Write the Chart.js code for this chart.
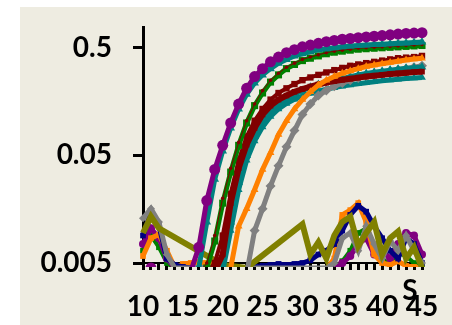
<!DOCTYPE html>
<html lang="en">
<head>
  <meta charset="UTF-8">
  <title>Amplification</title>
  <script src="https://cdn.jsdelivr.net/npm/chart.js@4.4.1/dist/chart.umd.min.js"></script>
  <style>
    body { margin: 0; background: #fff; }
    #wrap { position: absolute; left: 20px; top: 7px; width: 432px; height: 318px; background: #eeece1; }
  </style>
</head>
<body>
  <div id="wrap"><canvas id="myChart" width="432" height="318"></canvas></div>
  <script>
    const cycles = [10,11,12,13,14,15,16,17,18,19,20,21,22,23,24,25,26,27,28,29,30,31,32,33,34,35,36,37,38,39,40,41,42,43,44,45];
    const yTicks = [0.005, 0.05, 0.5];
    const xTicks = [10, 15, 20, 25, 30, 35, 40, 45];

    // amplifying samples
    const purple = [0.004,0.0045,0.004,0.004,0.004,0.004,0.0042,0.007,0.019,0.037,0.062,0.1,0.15,0.21,0.27,0.32,0.37,0.41,0.45,0.48,0.51,0.53,0.55,0.57,0.585,0.6,0.61,0.62,0.63,0.64,0.65,0.66,0.67,0.68,0.685,0.69];
    const tealHigh = [0.004,0.004,0.004,0.004,0.004,0.004,0.004,0.0045,0.012,0.03,0.055,0.09,0.135,0.185,0.235,0.28,0.32,0.36,0.39,0.42,0.44,0.46,0.48,0.49,0.5,0.51,0.52,0.525,0.53,0.535,0.54,0.545,0.55,0.555,0.56,0.565];
    const green = [0.004,0.004,0.004,0.004,0.004,0.004,0.004,0.004,0.0045,0.008,0.018,0.035,0.062,0.1,0.145,0.19,0.24,0.28,0.32,0.35,0.38,0.4,0.42,0.44,0.455,0.465,0.475,0.485,0.49,0.495,0.5,0.505,0.51,0.515,0.52,0.525];
    const maroonDots = [0.004,0.004,0.004,0.004,0.004,0.004,0.004,0.004,0.005,0.009,0.02,0.038,0.066,0.105,0.15,0.2,0.25,0.29,0.33,0.36,0.39,0.41,0.43,0.45,0.465,0.475,0.485,0.495,0.5,0.505,0.51,0.515,0.52,0.525,0.53,0.535];
    const maroonA = [0.004,0.004,0.004,0.004,0.004,0.004,0.004,0.004,0.004,0.005,0.009,0.022,0.045,0.075,0.105,0.135,0.165,0.19,0.21,0.23,0.25,0.265,0.28,0.295,0.31,0.325,0.34,0.35,0.36,0.37,0.38,0.39,0.4,0.405,0.41,0.42];
    const maroonB = [0.004,0.004,0.004,0.004,0.004,0.004,0.004,0.004,0.004,0.0042,0.006,0.018,0.038,0.063,0.09,0.12,0.145,0.165,0.18,0.195,0.207,0.218,0.228,0.237,0.245,0.252,0.258,0.264,0.27,0.275,0.28,0.285,0.289,0.293,0.297,0.3];
    const tealLow1 = [0.004,0.004,0.004,0.004,0.004,0.004,0.004,0.004,0.004,0.004,0.0045,0.012,0.028,0.05,0.075,0.1,0.125,0.147,0.167,0.185,0.2,0.215,0.228,0.24,0.25,0.26,0.27,0.28,0.288,0.296,0.303,0.31,0.316,0.322,0.327,0.332];
    const tealLow2 = [0.004,0.004,0.004,0.004,0.004,0.004,0.004,0.004,0.004,0.004,0.0042,0.01,0.024,0.045,0.068,0.092,0.115,0.135,0.152,0.166,0.178,0.189,0.198,0.206,0.213,0.22,0.226,0.232,0.237,0.242,0.247,0.251,0.255,0.259,0.262,0.265];
    const orange = [0.004,0.004,0.004,0.004,0.004,0.004,0.004,0.004,0.004,0.004,0.004,0.0045,0.011,0.016,0.024,0.037,0.053,0.078,0.105,0.135,0.165,0.195,0.225,0.25,0.27,0.29,0.305,0.32,0.335,0.345,0.355,0.365,0.375,0.385,0.393,0.4];
    const gray = [0.004,0.004,0.004,0.004,0.004,0.004,0.004,0.004,0.004,0.004,0.004,0.004,0.004,0.004,0.01,0.016,0.026,0.04,0.06,0.085,0.12,0.15,0.18,0.2,0.22,0.235,0.25,0.262,0.275,0.285,0.295,0.305,0.313,0.32,0.33,0.34];

    // non-amplifying samples
    const navyNoise = [0.009,0.015,0.011,0.0055,0.0048,0.0046,0.0045,0.0045,0.0045,0.0045,0.0046,0.0045,0.0045,0.0045,0.0046,0.0047,0.0048,0.0049,0.0048,0.0049,0.005,0.0053,0.006,0.0065,0.0075,0.01,0.014,0.017,0.015,0.011,0.0085,0.0065,0.0055,0.0085,0.0075,0.005];
    const grayNoise = [0.013,0.016,0.012,0.006,0.0045,0.0045,0.0045,0.0045,0.0045,0.0045,0.0045,0.0045,0.0045,0.0045,0.0045,0.0045,0.0045,0.0045,0.0045,0.0045,0.0045,0.0045,0.0045,0.0045,0.005,0.0085,0.0095,0.0065,0.011,0.0075,0.0055,0.008,0.0065,0.009,0.0065,0.005];
    const orangeNoise = [0.0058,0.0085,0.0092,0.0065,0.0045,0.0049,0.005,0.0051,0.005,0.0048,0.0045,0.0044,0.0044,0.0044,0.0044,0.0044,0.0044,0.0044,0.0044,0.0044,0.0044,0.0044,0.0044,0.0044,0.0055,0.014,0.0155,0.018,0.012,0.006,0.005,0.0048,0.0052,0.0047,0.0046,0.0045];
    const purpleNoise = [0.0075,0.0105,0.0085,0.0055,0.0045,0.0044,0.0044,0.0044,0.0044,0.0044,0.0044,0.0044,0.0044,0.0044,0.0044,0.0044,0.0044,0.0044,0.0044,0.0044,0.0044,0.0044,0.0044,0.0044,0.0044,0.005,0.0058,0.0075,0.0085,0.006,0.0065,0.0055,0.0075,0.0095,0.009,0.006];
    const greenNoise = [0.0065,0.009,0.007,0.005,0.0044,0.0044,0.0044,0.0044,0.0044,0.0044,0.0044,0.0044,0.0044,0.0044,0.0044,0.0044,0.0044,0.0044,0.0044,0.0044,0.0044,0.0044,0.0044,0.0044,0.0044,0.0052,0.0065,0.0095,0.0105,0.007,0.0055,0.0048,0.0062,0.0058,0.005,0.0046];
    const oliveNoise = [0.0095,0.0135,0.0105,null,null,null,null,null,null,null,0.0048,null,null,0.0045,null,null,null,null,null,null,0.0115,0.006,0.0078,0.0055,0.009,0.012,0.0135,0.0072,0.0095,0.012,0.006,0.0085,0.0098,0.0055,0.007,0.0045];

    const pts = (arr) => arr.map((v, i) => ({ x: cycles[i], y: v }));
    const clipBox = { left: 6, top: 6, right: 6, bottom: 4 };

    function series(arr, color, style, radius, width) {
      return {
        data: pts(arr),
        borderColor: color,
        backgroundColor: color,
        pointStyle: style,
        pointRadius: radius,
        pointBorderWidth: 0,
        borderWidth: width,
        tension: 0,
        spanGaps: true,
        clip: clipBox
      };
    }

    const datasets = [
      series(purple, '#800080', 'circle', 5.5, 5),
      series(tealHigh, '#008080', 'triangle', 5, 5),
      series(maroonDots, '#800000', 'circle', 1.8, 1),
      series(green, '#008000', 'rect', 5, 5),
      series(orange, '#ff8000', 'triangle', 4.5, 5),
      series(maroonB, '#800000', 'rect', 4, 6),
      series(tealLow1, '#008080', 'triangle', 5, 5),
      series(maroonA, '#800000', 'rect', 4.5, 4),
      series(gray, '#808080', 'rectRot', 5, 5),
      series(tealLow2, '#008080', 'triangle', 4.5, 5),
      series(oliveNoise, '#808000', 'rect', 0, 6),
      series(grayNoise, '#808080', 'rectRot', 4, 5),
      series(navyNoise, '#000080', 'rect', 4, 5),
      series(orangeNoise, '#ff8000', 'rect', 4, 5),
      series(purpleNoise, '#800080', 'circle', 4, 5),
      series(greenNoise, '#008000', 'rect', 4, 4)
    ];

    const cornerText = {
      id: 'cornerText',
      afterDraw(chart) {
        const c = chart.ctx;
        c.save();
        c.font = 'bold 28px Lato';
        c.fillStyle = '#000';
        c.textAlign = 'center';
        c.textBaseline = 'middle';
        c.fillText('S', 390, 284);
        c.restore();
      }
    };

    const ctx = document.getElementById('myChart').getContext('2d');
    const myChart = new Chart(ctx, {
      type: 'line',
      data: { datasets: datasets },
      options: {
        responsive: false,
        animation: false,
        layout: { padding: { top: 20, right: 30, left: 0, bottom: 0 } },
        plugins: { legend: { display: false }, tooltip: { enabled: false } },
        scales: {
          x: {
            type: 'linear',
            min: 10,
            max: 45,
            afterBuildTicks: (scale) => {
              scale.ticks = cycles.map(v => ({ value: v }));
            },
            afterFit: (scale) => {
              scale.height = 62;
              scale.paddingLeft = 0;
              scale.paddingRight = 0;
            },
            ticks: {
              autoSkip: false,
              maxRotation: 0,
              padding: 20,
              color: '#000',
              font: { family: 'Lato', size: 28, weight: 'bold' },
              callback: (v) => xTicks.includes(v) ? String(v) : ''
            },
            grid: { drawOnChartArea: false, tickLength: 7, tickWidth: 3, tickColor: '#000' },
            border: { display: true, color: '#000', width: 2 }
          },
          y: {
            type: 'logarithmic',
            min: 0.005,
            max: 0.78,
            afterBuildTicks: (scale) => {
              scale.ticks = yTicks.map(v => ({ value: v }));
            },
            afterFit: (scale) => {
              scale.width = 123;
              scale.paddingTop = 0;
              scale.paddingBottom = 0;
            },
            ticks: {
              padding: 21,
              color: '#000',
              font: { family: 'Lato', size: 28, weight: 'bold' },
              callback: (v) => String(v)
            },
            grid: { drawOnChartArea: false, tickLength: 10, tickWidth: 3, tickColor: '#000' },
            border: { display: true, color: '#000', width: 3 }
          }
        }
      },
      plugins: [cornerText]
    });
  </script>
</body>
</html>
